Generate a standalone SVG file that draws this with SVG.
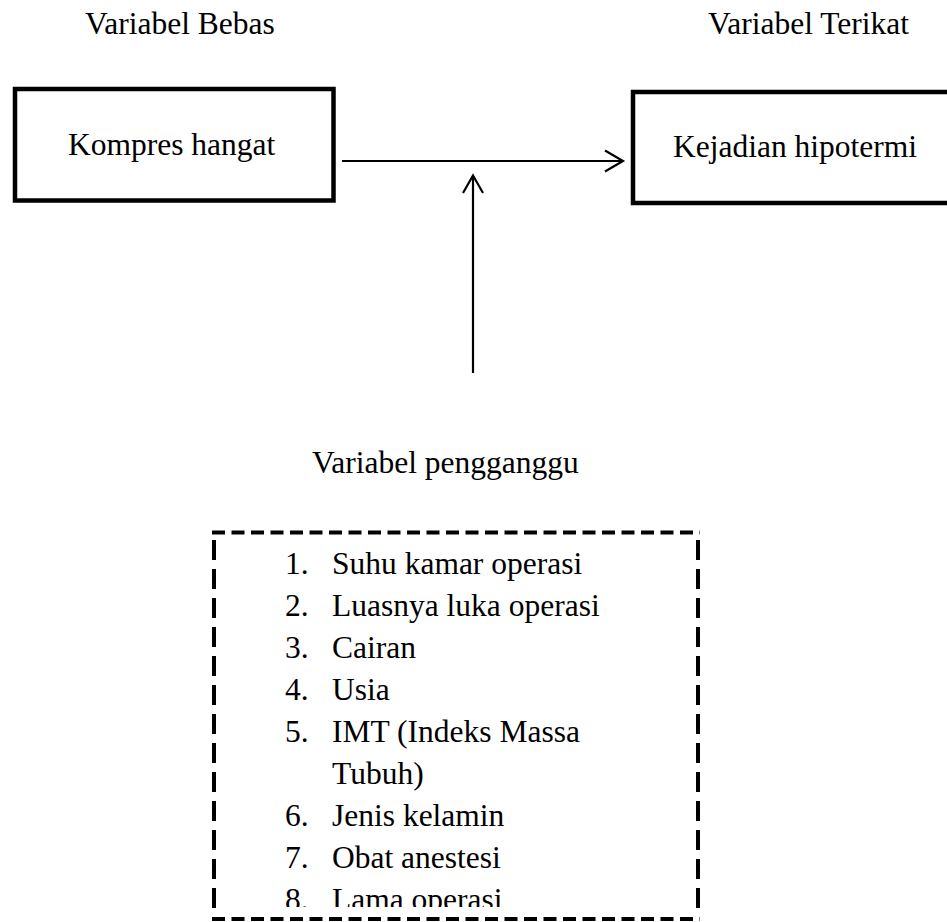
<svg xmlns="http://www.w3.org/2000/svg" width="947" height="922" viewBox="0 0 947 922">
<style>
text{font-family:"Liberation Serif","Times New Roman",serif;font-size:31.5px;fill:#000}
.box{fill:#fff;stroke:#000;stroke-width:4.5}
.conn{stroke:#000;stroke-width:2.2;fill:none}
.dash{stroke:#000;stroke-width:4;fill:none}
</style>
<defs>
<clipPath id="clipList"><rect x="0" y="0" width="947" height="907"/></clipPath>
</defs>
<rect width="947" height="922" fill="#fff"/>
<text id="label-bebas" x="85" y="34">Variabel Bebas</text>
<text id="label-terikat" x="708" y="34">Variabel Terikat</text>
<g id="node-kompres">
<rect class="box" x="15" y="89" width="318.5" height="111.5"/>
<text x="68" y="155">Kompres hangat</text>
</g>
<g id="node-hipotermi">
<rect class="box" x="633" y="92" width="330" height="111"/>
<text x="673" y="157">Kejadian hipotermi</text>
</g>
<g id="connectors">
<line class="conn" x1="342" y1="161" x2="622" y2="161"/>
<polyline class="conn" points="605,150.5 623,161 605,171.5"/>
<line class="conn" x1="473" y1="176" x2="473" y2="373"/>
<polyline class="conn" points="463,193 473,175.5 483,193"/>
</g>
<text id="label-pengganggu" x="312" y="473">Variabel pengganggu</text>
<g id="node-pengganggu">
<line class="dash" x1="212" y1="532.5" x2="700" y2="532.5" stroke-dasharray="13 6.5"/>
<line class="dash" x1="212" y1="919" x2="700" y2="919" stroke-dasharray="13 6.5"/>
<line class="dash" x1="214" y1="540" x2="214" y2="917" stroke-dasharray="20 9"/>
<line class="dash" x1="698" y1="540" x2="698" y2="917" stroke-dasharray="20 9"/>
<g clip-path="url(#clipList)">
<text x="285" y="574">1.</text><text x="332" y="574">Suhu kamar operasi</text>
<text x="285" y="616">2.</text><text x="332" y="616">Luasnya luka operasi</text>
<text x="285" y="658">3.</text><text x="332" y="658">Cairan</text>
<text x="285" y="700">4.</text><text x="332" y="700">Usia</text>
<text x="285" y="742">5.</text><text x="332" y="742">IMT (Indeks Massa</text>
<text x="332" y="784">Tubuh)</text>
<text x="285" y="826">6.</text><text x="332" y="826">Jenis kelamin</text>
<text x="285" y="868">7.</text><text x="332" y="868">Obat anestesi</text>
<text x="285" y="910">8.</text><text x="332" y="910">Lama operasi</text>
</g>
</g>
</svg>
